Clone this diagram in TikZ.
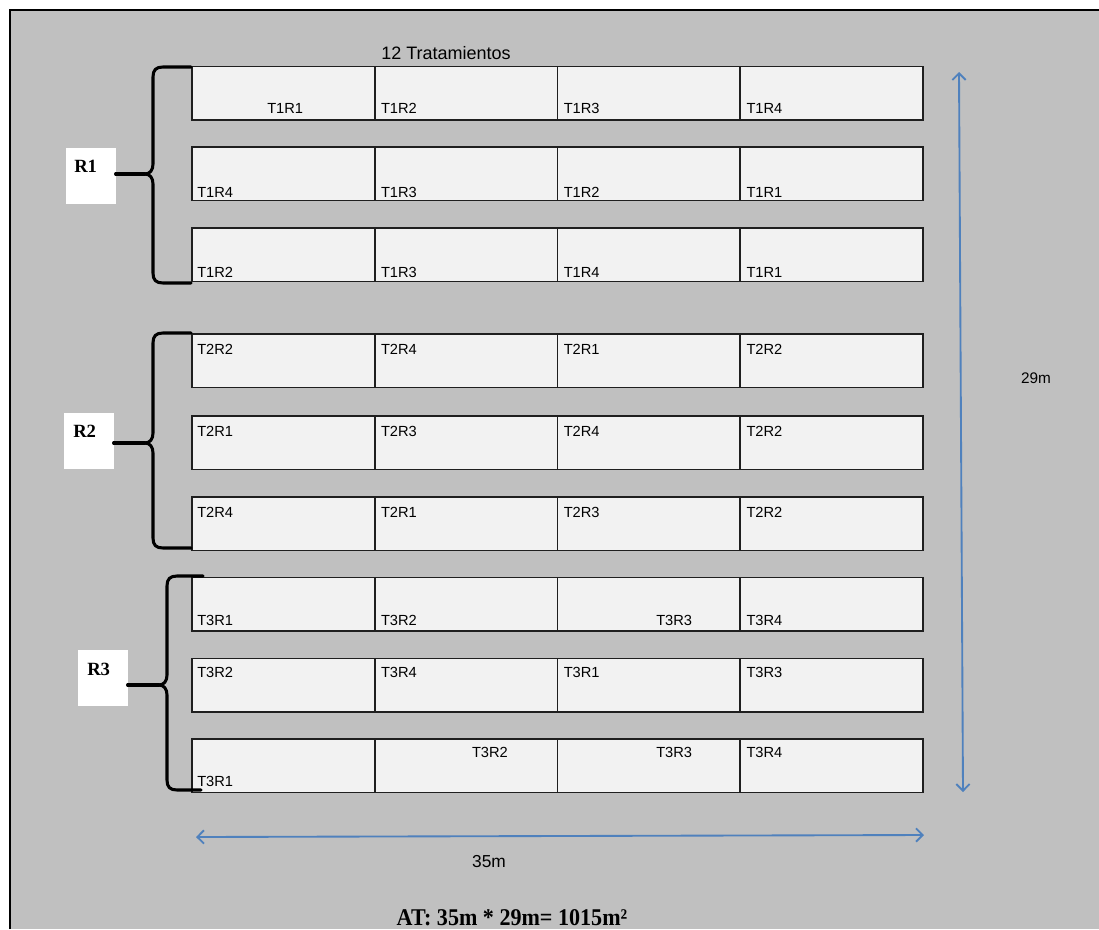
\documentclass[tikz,border=0pt]{standalone}
\usepackage{fontspec}
\setmainfont{Liberation Sans}
\newfontfamily\serifbold[FakeStretch=0.92]{Liberation Serif}
\newfontfamily\repfont{Liberation Serif}
\usetikzlibrary{arrows.meta,calc}
\definecolor{paper}{HTML}{C0C0C0}
\definecolor{plot}{HTML}{F2F2F2}
\definecolor{dimblue}{HTML}{4F81BD}
\tikzset{
  cell/.style={draw=black!88, line width=1.2pt, fill=plot, minimum width=137.06pt,
    minimum height=40.1pt, inner sep=0pt, outer sep=0pt, anchor=north west},
  lab/.style={font=\fontsize{11}{13}\selectfont, inner sep=0pt, anchor=base west},
  repbox/.style={fill=white, minimum width=37.2pt, minimum height=42pt, inner sep=0pt,
    outer sep=0pt, anchor=north west},
  replab/.style={font=\repfont\bfseries\fontsize{14}{16}\selectfont, inner sep=0pt, anchor=base west},
  bracepath/.style={line width=2.3pt, line cap=round, line join=round},
  dimarrow/.style={draw=dimblue, line width=1.4pt,
    {Straight Barb[length=5pt,width=10pt]}-{Straight Barb[length=5pt,width=10pt]}},
}
\begin{document}
\begin{tikzpicture}[x=0.75pt,y=-0.75pt]
\useasboundingbox (0,0) rectangle (1099,929);
% sheet and frame
\fill[white] (0,0) rectangle (1099,929);
\fill[paper] (10,10) rectangle (1099,929);
\draw[line width=1.6pt] (10,929) -- (10,10) -- (1099,10);

% plots: 9 rows x 4 columns
\foreach \r/\top in {1/66.5,2/147,3/228,4/334,5/416,6/497,7/577.5,8/658.5,9/739}
  \foreach \c/\x in {1/192,2/374.75,3/557.5,4/740.25}
    \node[cell] (c\r\c) at (\x,\top) {};

% plot labels: row/col/text/x offset/baseline below the plot top
\foreach \r/\c/\t/\dx/\dy in {
  1/1/T1R1/75/47, 1/2/T1R2/6/47, 1/3/T1R3/6/47, 1/4/T1R4/6/47,
  2/1/T1R4/5/50, 2/2/T1R3/6/50, 2/3/T1R2/6/50, 2/4/T1R1/6/50,
  3/1/T1R2/5/49, 3/2/T1R3/6/49, 3/3/T1R4/6/49, 3/4/T1R1/6/49,
  4/1/T2R2/5/20, 4/2/T2R4/6/20, 4/3/T2R1/6/20, 4/4/T2R2/6/20,
  5/1/T2R1/5/20, 5/2/T2R3/6/20, 5/3/T2R4/6/20, 5/4/T2R2/6/20,
  6/1/T2R4/5/20, 6/2/T2R1/6/20, 6/3/T2R3/6/20, 6/4/T2R2/6/20,
  7/1/T3R1/5/48, 7/2/T3R2/6/48, 7/3/T3R3/98.5/48, 7/4/T3R4/6/48,
  8/1/T3R2/5/19, 8/2/T3R4/6/19, 8/3/T3R1/6/19, 8/4/T3R3/6/19,
  9/1/T3R1/5/47, 9/2/T3R2/97/18, 9/3/T3R3/98.5/18, 9/4/T3R4/6/18}
  \node[lab] (l\r\c) at ($(c\r\c.north west)+(\dx,\dy)$) {\t};

\node[font=\fontsize{13.5}{15}\selectfont, inner sep=0pt, anchor=base west] (title) at (381,59) {12 Tratamientos};

% replicate boxes
\node[repbox] (r1box) at (66,148) {};
\node[repbox] (r2box) at (64,413) {};
\node[repbox] (r3box) at (78,650) {};
\node[replab] (r1lab) at ($(r1box.north west)+(8,24)$) {R1};
\node[replab] (r2lab) at ($(r2box.north west)+(9,24)$) {R2};
\node[replab] (r3lab) at ($(r3box.north west)+(9,25)$) {R3};

% braces grouping the rows of each replicate
\coordinate (b1tip) at (145,174);
\coordinate (b2tip) at (145,443);
\coordinate (b3tip) at (159,685);
\draw[bracepath] (191,67) -- (163,67) .. controls (156,67) and (153,70) .. (153,77)
  -- (153,164) .. controls (153,170) and (150,174) .. (b1tip)
  .. controls (150,174) and (153,178) .. (153,184)
  -- (153,273) .. controls (153,280) and (156,283) .. (163,283) -- (191,283);
\draw[bracepath] (191,333) -- (163,333) .. controls (156,333) and (153,336) .. (153,343)
  -- (153,433) .. controls (153,439) and (150,443) .. (b2tip)
  .. controls (150,443) and (153,447) .. (153,453)
  -- (153,538) .. controls (153,545) and (156,548) .. (163,548) -- (191,548);
\draw[bracepath] (203,576) -- (177,576) .. controls (170,576) and (167,579) .. (167,586)
  -- (167,675) .. controls (167,681) and (164,685) .. (b3tip)
  .. controls (164,685) and (167,689) .. (167,695)
  -- (167,780) .. controls (167,787) and (170,790) .. (177,790) -- (201,790);
\draw[bracepath] (r1box.east |- b1tip) -- (b1tip);
\draw[bracepath] (r2box.east |- b2tip) -- (b2tip);
\draw[bracepath] (r3box.east |- b3tip) -- (b3tip);

% overall dimensions
\coordinate (vtop) at (959,72);
\coordinate (vbot) at (963,792);
\coordinate (hleft) at (196,837);
\coordinate (hright) at (924,835);
\draw[dimarrow] (vtop) -- (vbot);
\draw[dimarrow] (hleft) -- (hright);
\node[font=\fontsize{11.5}{13}\selectfont, inner sep=0pt] (wlab) at (1036,378) {29m};
\node[font=\fontsize{13}{15}\selectfont, inner sep=0pt] (llab) at (489,862) {35m};
\node[font=\serifbold\bfseries\fontsize{18}{20}\selectfont, inner sep=0pt, anchor=base] (area) at (512,925) {AT: 35m * 29m= 1015m²};
\end{tikzpicture}
\end{document}
